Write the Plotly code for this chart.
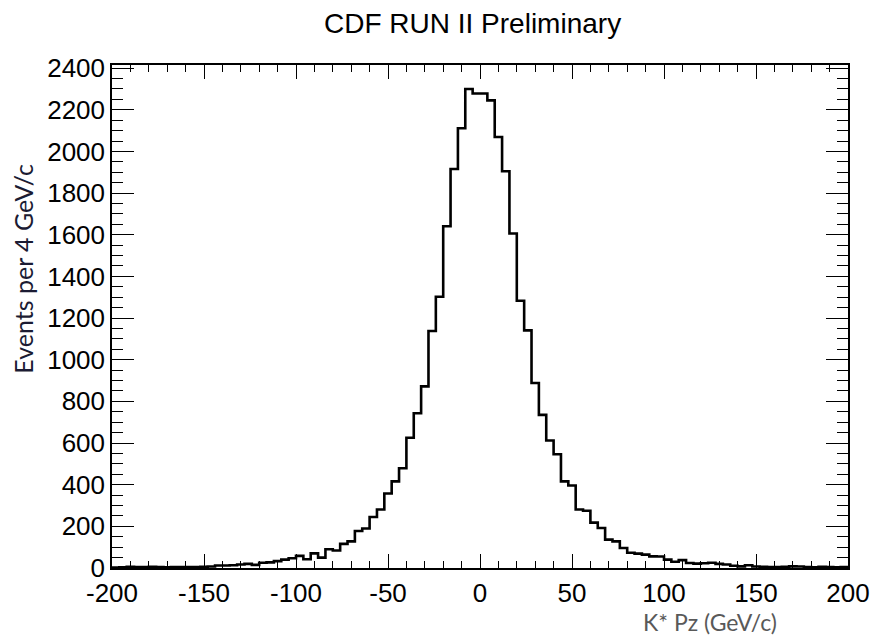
import plotly.graph_objects as go

# Histogram: K* Pz, 100 bins of 4 GeV/c from -200 to 200
bin_low = -200
bin_width = 4
counts = [
    2, 3, 6, 4, 5, 6, 4, 3, 4, 5,
    4, 5, 6, 7, 12, 12, 13, 17, 20, 15,
    25, 27, 33, 40, 47, 58, 42, 70, 50, 90,
    84, 116, 128, 178, 190, 245, 281, 358, 416, 479,
    625, 743, 872, 1138, 1302, 1641, 1916, 2111, 2300, 2278,
    2278, 2245, 2069, 1905, 1606, 1283, 1141, 888, 735, 612,
    546, 416, 396, 281, 275, 218, 192, 136, 128, 96,
    73, 69, 64, 56, 55, 40, 30, 38, 24, 21,
    23, 25, 20, 17, 11, 8, 13, 7, 6, 5,
    5, 6, 8, 7, 4, 3, 6, 5, 3, 4,
]
x_ticks = [-200, -150, -100, -50, 0, 50, 100, 150, 200]
y_ticks = list(range(0, 2401, 200))

edges = [bin_low + i * bin_width for i in range(len(counts) + 1)]
step_y = counts + [counts[-1]]

fig = go.Figure()
fig.add_trace(go.Scatter(
    x=edges, y=step_y, mode="lines", line=dict(shape="hv", color="black", width=2.6),
    showlegend=False, hoverinfo="skip",
))

tick_font = dict(family="Liberation Sans, Arial, sans-serif", size=26, color="black")

fig.update_layout(
    width=882, height=637,
    margin=dict(l=112, r=26, t=65, b=69),
    paper_bgcolor="white", plot_bgcolor="white",
    xaxis=dict(
        range=[-200, 200], tickvals=x_ticks, ticktext=[str(v) for v in x_ticks],
        ticks="inside", ticklen=14, tickwidth=1.3, tickcolor="black",
        minor=dict(dtick=10, tick0=0, ticks="inside", ticklen=7, tickwidth=1.3, tickcolor="black"),
        showline=True, linecolor="black", linewidth=1.5, mirror="ticks",
        showgrid=False, zeroline=False, tickfont=tick_font, ticklabelstandoff=1,
    ),
    yaxis=dict(
        range=[0, 2415], tickvals=y_ticks, ticktext=[str(v) for v in y_ticks],
        ticks="inside", ticklen=22, tickwidth=1.3, tickcolor="black",
        minor=dict(dtick=50, tick0=0, ticks="inside", ticklen=11, tickwidth=1.3, tickcolor="black"),
        showline=True, linecolor="black", linewidth=1.5, mirror="ticks",
        showgrid=False, zeroline=False, tickfont=tick_font,
    ),
    annotations=[
        dict(text="CDF RUN II Preliminary", xref="paper", yref="paper", x=0.49, y=1.083,
             xanchor="center", yanchor="middle", showarrow=False,
             font=dict(family="Liberation Sans, Arial, sans-serif", size=28, color="black")),
        dict(text="Events per 4 GeV/c", xref="paper", yref="paper", x=-0.121, y=0.595,
             xanchor="center", yanchor="middle", textangle=-90, showarrow=False,
             font=dict(family="Lato, Open Sans, sans-serif", size=25, color="#1b1b33")),
        dict(text="K* Pz (GeV/c)", xref="paper", yref="paper", x=0.812, y=-0.107,
             xanchor="center", yanchor="middle", showarrow=False,
             font=dict(family="Lato, Open Sans, sans-serif", size=23, color="#595959")),
    ],
)

fig.write_html("out.html")
